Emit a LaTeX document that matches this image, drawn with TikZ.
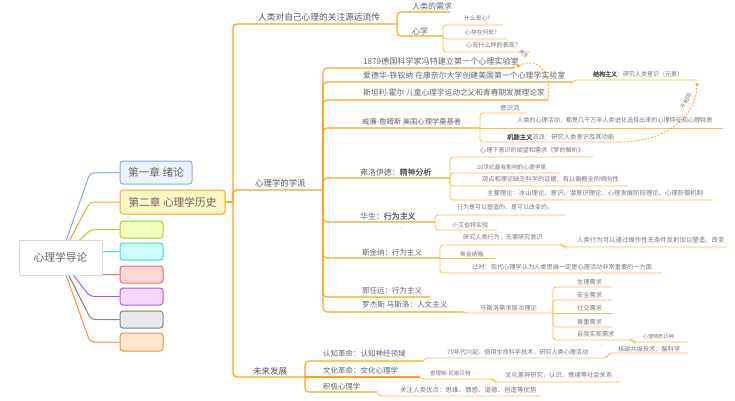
\documentclass[tikz,border=0pt]{standalone}
\usepackage{fontspec}
\setmainfont{Noto Sans CJK SC}
\newfontfamily\bcjk[FakeBold=1.4]{Noto Sans CJK SC}
\usetikzlibrary{shadows,arrows.meta}
\definecolor{mainor}{RGB}{250,165,30}
\definecolor{leafor}{RGB}{252,188,85}
\definecolor{txta}{RGB}{85,85,85}
\definecolor{txtb}{RGB}{100,100,100}
\definecolor{txtc}{RGB}{118,118,118}
\begin{document}
\begin{tikzpicture}[x=1pt,y=-1pt,
  fs/.style={font=\fontsize{#1pt}{#1pt}\selectfont},
  lbl/.style={anchor=west,inner sep=0pt},
  la/.style={lbl,text=txta},
  lb/.style={lbl,text=txtb},
  lc/.style={lbl,text=txtc},
  l1/.style={draw=mainor,line width=1.4pt,rounded corners=4pt},
  l2/.style={draw=mainor,line width=1.1pt,rounded corners=4pt},
  l3/.style={draw=leafor,line width=0.8pt,rounded corners=3pt},
  rel/.style={draw=mainor,line width=0.8pt,dash pattern=on 2pt off 1.5pt,-{Circle[length=3pt]}},
  chbox/.style={rounded corners=3pt,line width=1pt,inner sep=0pt,text=txtb,font=\fontsize{10.7pt}{11pt}\selectfont},
  rootc/.style={line width=1pt,rounded corners=4pt}
]
\useasboundingbox[fill=white] (0,0) rectangle (735,400);

% ---------- left: chapters ----------
\coordinate (rc) at (60,258);
\node[chbox,draw={rgb,255:red,140;green,170;blue,225},fill={rgb,255:red,234;green,244;blue,255},minimum width=72pt,minimum height=23pt] (ch1) at (156,172.5) {第一章 绪论};
\node[chbox,draw=mainor,fill={rgb,255:red,255;green,246;blue,195},minimum width=105pt,minimum height=24pt] (ch2) at (172.5,202) {第二章 心理学历史};
\node[chbox,draw={rgb,255:red,160;green,210;blue,40},fill={rgb,255:red,240;green,255;blue,190},minimum width=43pt,minimum height=17pt] (ch3) at (141.5,229.5) {};
\node[chbox,draw={rgb,255:red,70;green,210;blue,210},fill={rgb,255:red,205;green,255;blue,255},minimum width=43pt,minimum height=17pt] (ch4) at (141.5,251.5) {};
\node[chbox,draw={rgb,255:red,250;green,100;blue,100},fill={rgb,255:red,255;green,215;blue,215},minimum width=43pt,minimum height=17pt] (ch5) at (141.5,274.5) {};
\node[chbox,draw={rgb,255:red,175;green,90;blue,240},fill={rgb,255:red,245;green,215;blue,255},minimum width=43pt,minimum height=17pt] (ch6) at (141.5,296.5) {};
\node[chbox,draw={rgb,255:red,130;green,130;blue,130},fill={rgb,255:red,232;green,232;blue,232},minimum width=43pt,minimum height=17pt] (ch7) at (141.5,319.5) {};
\node[chbox,draw={rgb,255:red,250;green,140;blue,70},fill={rgb,255:red,255;green,232;blue,205},minimum width=43pt,minimum height=18pt] (ch8) at (141.5,342) {};

\draw[rootc,draw={rgb,255:red,140;green,170;blue,225}] (rc) -- (90,173) -- (ch1.west);
\draw[rootc,draw=mainor] (rc) -- (90,202) -- (ch2.west);
\draw[rootc,draw={rgb,255:red,160;green,210;blue,40}] (rc) -- (91,229.5) -- (ch3.west);
\draw[rootc,draw={rgb,255:red,70;green,210;blue,210}] (rc) -- (90,251.5) -- (ch4.west);
\draw[rootc,draw={rgb,255:red,250;green,100;blue,100}] (rc) -- (90,274.5) -- (ch5.west);
\draw[rootc,draw={rgb,255:red,175;green,90;blue,240}] (rc) -- (90,296.5) -- (ch6.west);
\draw[rootc,draw={rgb,255:red,130;green,130;blue,130}] (rc) -- (91,319.5) -- (ch7.west);
\draw[rootc,draw={rgb,255:red,250;green,140;blue,70}] (rc) -- (90,342) -- (ch8.west);

\node[draw=black!15,fill=white,minimum width=83pt,minimum height=35pt,inner sep=0pt,
  drop shadow={opacity=0.2,shadow xshift=1pt,shadow yshift=-1.2pt},
  text=txtb,font=\fontsize{10.8pt}{11pt}\selectfont] (root) at (60.5,257.5) {心理学导论};

% small marks
\draw[leafor!60,line width=0.6pt] (127,218.5) -- (129.5,216);
\draw[leafor!60,line width=0.6pt] (400,228.5) -- (403,225.5);
\draw[leafor!60,line width=0.6pt] (600,347.5) -- (603,344.5);

% ---------- trunk ----------
\coordinate (tj) at (233,202);
\draw[l1] (ch2.east) -- (tj);
\draw[l1] (tj) -- (233,24) -- (397,24);
\draw[l1] (tj) -- (233,190) -- (323,190);
\draw[l1] (tj) -- (233,377) -- (305,377);

% ---------- top branch ----------
\draw[l2] (397,24) -- (397,12) -- (450,12);
\draw[l2] (397,24) -- (397,36) -- (443,36);
\draw[l3] (443,36) -- (443,25) -- (503,25);
\draw[l3] (443,36) -- (443,39) -- (507,39);
\draw[l3] (443,36) -- (443,52) -- (530,52);

% ---------- schools ----------
\draw[l2] (323,190) -- (323,68) -- (515,68);
\draw[l2] (323,190) -- (323,82) -- (572,82);
\draw[l2] (323,190) -- (323,100) -- (548,100);
\draw[l2] (323,190) -- (323,128) -- (480,128);
\draw[l2] (323,190) -- (323,178) -- (450,178);
\draw[l2] (323,190) -- (323,222) -- (435,222);
\draw[l2] (323,190) -- (323,258) -- (440,258);
\draw[l2] (323,190) -- (323,297) -- (430,297);
\draw[l2] (323,190) -- (323,312) -- (463,312);

\draw[l3] (572,82) -- (574,80) -- (697,80);

\draw[l3] (480,128) -- (480,113) -- (527,113);
\draw[l3] (480,128) -- (723,128);
\draw[l3] (480,128) -- (480,142) -- (620,142);

\draw[l3] (450,178) -- (450,157) -- (593,157);
\draw[l3] (450,178) -- (450,173) -- (560,173);
\draw[l3] (450,178) -- (450,186) -- (628,186);
\draw[l3] (450,178) -- (450,200) -- (712,200);

\draw[l3] (435,222) -- (435,215) -- (565,215);
\draw[l3] (435,222) -- (435,230) -- (497,230);

\draw[l3] (440,258) -- (440,245) -- (562,245) -- (564,247) -- (727,247);
\draw[l3] (440,258) -- (495,258);
\draw[l3] (440,258) -- (440,273) -- (662,273);

\draw[l3] (463,312) -- (465,313) -- (553,313);
\draw[l3] (553,313) -- (553,287) -- (612,287);
\draw[l3] (553,313) -- (553,300) -- (612,300);
\draw[l3] (553,313) -- (612,313);
\draw[l3] (553,313) -- (553,327) -- (612,327);
\draw[l3] (553,313) -- (553,340) -- (632,340) -- (634,342) -- (687,342);

% ---------- future ----------
\draw[l2] (305,377) -- (305,361) -- (423,361);
\draw[l2] (305,377) -- (420,377);
\draw[l2] (305,377) -- (305,392) -- (377,392);
\draw[l3] (423,361) -- (425,358) -- (607,358) -- (609,353) -- (688,353);
\draw[l3] (420,377) -- (422,379) -- (493,379) -- (495,382) -- (620,382);
\draw[l3] (377,392) -- (379,396) -- (540,396);

% ---------- relations ----------
\coordinate (hallend) at (548,100);
\coordinate (wundtend) at (517,67);
\coordinate (funcend) at (620,142);
\coordinate (structend) at (697,83);
\draw[rel] (hallend) .. controls (553,72) and (537,56) .. (wundtend);
\draw[rel] (funcend) .. controls (667,142) and (697,115) .. (structend);
\node[lc,fs=5,anchor=center,rotate=-35] (r1) at (524,54) {先生};
\node[lc,fs=5.5,anchor=center,rotate=62] (r2) at (686,101) {不相同};

% ---------- texts ----------
\node[la,fs=8.7] (t1) at (258,17) {人类对自己心理的关注源远流传};
\node[la,fs=8.4] (t2) at (255,183) {心理学的学派};
\node[la,fs=8.5] (t3) at (253,371) {未来发展};

\node[lb,fs=8] (a1) at (412,6) {人类的需求};
\node[lb,fs=8] (a2) at (412,31) {心学};
\node[lc,fs=5.8] (a3) at (464,18) {什么是心?};
\node[lc,fs=5.8] (a4) at (465,32) {心存在何处?};
\node[lc,fs=6.1] (a5) at (466,45) {心有什么样的表现?};

\node[lb,fs=8.1] (s1) at (363,61) {1879德国科学家冯特建立第一个心理实验室};
\node[lb,fs=7.9] (s2) at (363,75) {爱德华-铁钦纳 在康奈尔大学创建美国第一个心理学实验室};
\node[lb,fs=7.7] (s3) at (363,93) {斯坦利-霍尔 儿童心理学运动之父和青春期发展理论家};
\node[lb,fs=7.3] (s4) at (362,122) {威廉-詹姆斯 美国心理学奠基者};
\node[lb,fs=7.9] (s5) at (360,172) {弗洛伊德：{\bcjk 精神分析}};
\node[lb,fs=7.9] (s6) at (360,216) {华生：{\bcjk 行为主义}};
\node[lb,fs=7.5] (s7) at (362,253) {斯金纳：行为主义};
\node[lb,fs=7.5] (s8) at (362,291) {郭任远：行为主义};
\node[lb,fs=7.6] (s9) at (362,305) {罗杰斯 马斯洛：人文主义};

\node[lc,fs=6] (b1) at (593,74) {{\bcjk\color{txta}结构主义}：研究人类意识（元素）};
\node[lc,fs=6.5] (b2) at (500,108) {意识流};
\node[lc,fs=6.1] (b3) at (517,120) {人类的心理活动，都是几千万年人类进化选择出来的心理特征和心理特质};
\node[lc,fs=6.3] (b4) at (507,137) {{\bcjk\color{txta}机能主义}流派：研究人类意识及其功能};
\node[lc,fs=6.1] (b5) at (480,150) {心理下意识的欲望和需求《梦的解析》};
\node[lc,fs=5.7] (b6) at (477,167) {20世纪最有影响的心理学家};
\node[lc,fs=6.2] (b7) at (482,179) {观点和理论缺乏科学的证据，有以偏概全的倾向性};
\node[lc,fs=6.35] (b8) at (487,193) {主要理论：冰山理论、意识、潜意识理论、心理发展阶段理论、心理防御机制};
\node[lc,fs=6] (b9) at (457,207) {行为是可以塑造的，是可以改变的。};
\node[lc,fs=6] (b10) at (452,225) {小艾伯特实验};
\node[lc,fs=6.1] (b11) at (463,237) {研究人类行为，无需研究意识};
\node[lc,fs=6.4] (b12) at (577,240) {人类行为可以通过操作性无条件反射加以塑造、改变};
\node[lc,fs=5.8] (b13) at (460,254) {斯金纳箱};
\node[lc,fs=6.2] (b14) at (472,267) {过时：现代心理学认为人类思维一定是心理活动非常重要的一方面};
\node[lc,fs=6.3] (b15) at (480,308) {马斯洛需求层次理论};
\node[lc,fs=6.2] (n1) at (577,282) {生理需求};
\node[lc,fs=6.2] (n2) at (577,295) {安全需求};
\node[lc,fs=6.2] (n3) at (577,308) {社交需求};
\node[lc,fs=6.2] (n4) at (577,322) {尊重需求};
\node[lc,fs=6.2] (n5) at (577,334) {自我实现需求};
\node[lc,fs=5] (n6) at (643,336.5) {心理特质15种};

\node[lb,fs=7.5] (f1) at (323,354) {认知革命：认知神经领域};
\node[lb,fs=7.5] (f2) at (323,371) {文化革命：文化心理学};
\node[lb,fs=7.4] (f3) at (323,387) {积极心理学};
\node[lc,fs=6.1] (g1) at (447,352) {70年代兴起，借用生命科学技术，研究人类心理活动};
\node[lc,fs=6.2] (g2) at (618,349) {核磁共振技术：脑科学};
\node[lc,fs=5.5] (g3) at (430,373) {查理斯-尼斯贝特};
\node[lc,fs=6.3] (g4) at (505,375) {文化差异研究，认识、情绪等社会关系};
\node[lc,fs=6.5] (g5) at (400,390.5) {关注人类优点：思维、情感、道德、创造等优势};
\end{tikzpicture}
\end{document}
